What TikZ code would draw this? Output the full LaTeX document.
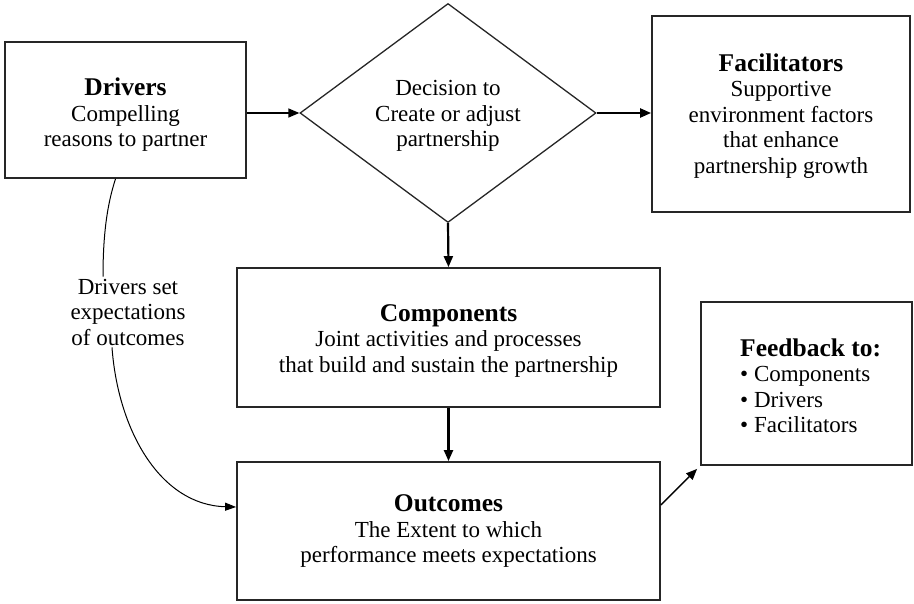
\documentclass[tikz,border=0pt]{standalone}
\usepackage{fontspec}
\setmainfont{Liberation Serif}
\usetikzlibrary{shapes.geometric,arrows.meta}
\newcommand{\ttl}[1]{{\fontsize{25.5}{26}\selectfont\bfseries #1}}
\begin{document}
\begin{tikzpicture}[x=1pt,y=-1pt,
  box/.style={draw=black!85,line width=1.8pt,inner sep=0pt},
  txt/.style={align=center,inner sep=0pt,font=\fontsize{23}{25.5}\selectfont},
  conn/.style={line width=1.4pt,-{Triangle[length=11pt,width=9pt]}},
  thick conn/.style={line width=2.2pt,-{Triangle[length=11pt,width=9pt]}},
  curve/.style={line width=1pt}]
\useasboundingbox (0,0) rectangle (914,604);
\node[box,minimum width=241pt,minimum height=136pt] (drv) at (125.5,110) {};
\node[txt] (drvT) at (125.5,115) {\ttl{Drivers}\\Compelling\\reasons to partner};
\node[draw=black!85,line width=1.3pt,shape=diamond,inner sep=0pt,
  minimum width=296pt,minimum height=219pt] (dec) at (448,113) {};
\node[txt] (decT) at (448,116) {Decision to\\Create or adjust\\partnership};
\node[box,minimum width=258pt,minimum height=196pt] (fac) at (781,114) {};
\node[txt] (facT) at (781,116) {\ttl{Facilitators}\\Supportive\\environment factors\\that enhance\\partnership growth};
\node[box,minimum width=423pt,minimum height=139pt] (comp) at (448.5,337.5) {};
\node[txt] (compT) at (448.5,341) {\ttl{Components}\\Joint activities and processes\\that build and sustain the partnership};
\node[box,minimum width=423pt,minimum height=138pt] (out) at (448.5,531) {};
\node[txt] (outT) at (448.5,531.5) {\ttl{Outcomes}\\The Extent to which\\performance meets expectations};
\node[box,minimum width=211pt,minimum height=163pt] (fb) at (806.5,383.5) {};
\node[txt,anchor=west,align=left] (fbt) at (740,386)
  {\ttl{Feedback to:}\\\textbullet\ Components\\\textbullet\ Drivers\\\textbullet\ Facilitators};
\node[txt,inner sep=2pt] (lbl) at (128,312)
  {Drivers set\\expectations\\of outcomes};
\draw[conn] (drv.east |- dec.west) -- (dec.west);
\draw[thick conn] (dec.east) -- (fac.west |- dec.east);
\draw[thick conn] (dec.south) -- (comp.north);
\draw[thick conn] (comp.south) -- (out.north);
\draw[conn] ([yshift=26pt]out.east) -- ([xshift=-3pt,yshift=-3pt]fb.south west);
\coordinate (c1) at ([xshift=-10pt]drv.south);
\coordinate (c2) at (lbl.north -| 103,0);
\coordinate (c3) at ([xshift=-16pt]lbl.south);
\draw[curve] (c1) .. controls (107,205) and (103,235) .. (c2);
\draw[curve,-{Triangle[length=11pt,width=8pt]}] (c3) .. controls (118,430) and (160,505) .. ([yshift=24pt]out.west);
\end{tikzpicture}
\end{document}
